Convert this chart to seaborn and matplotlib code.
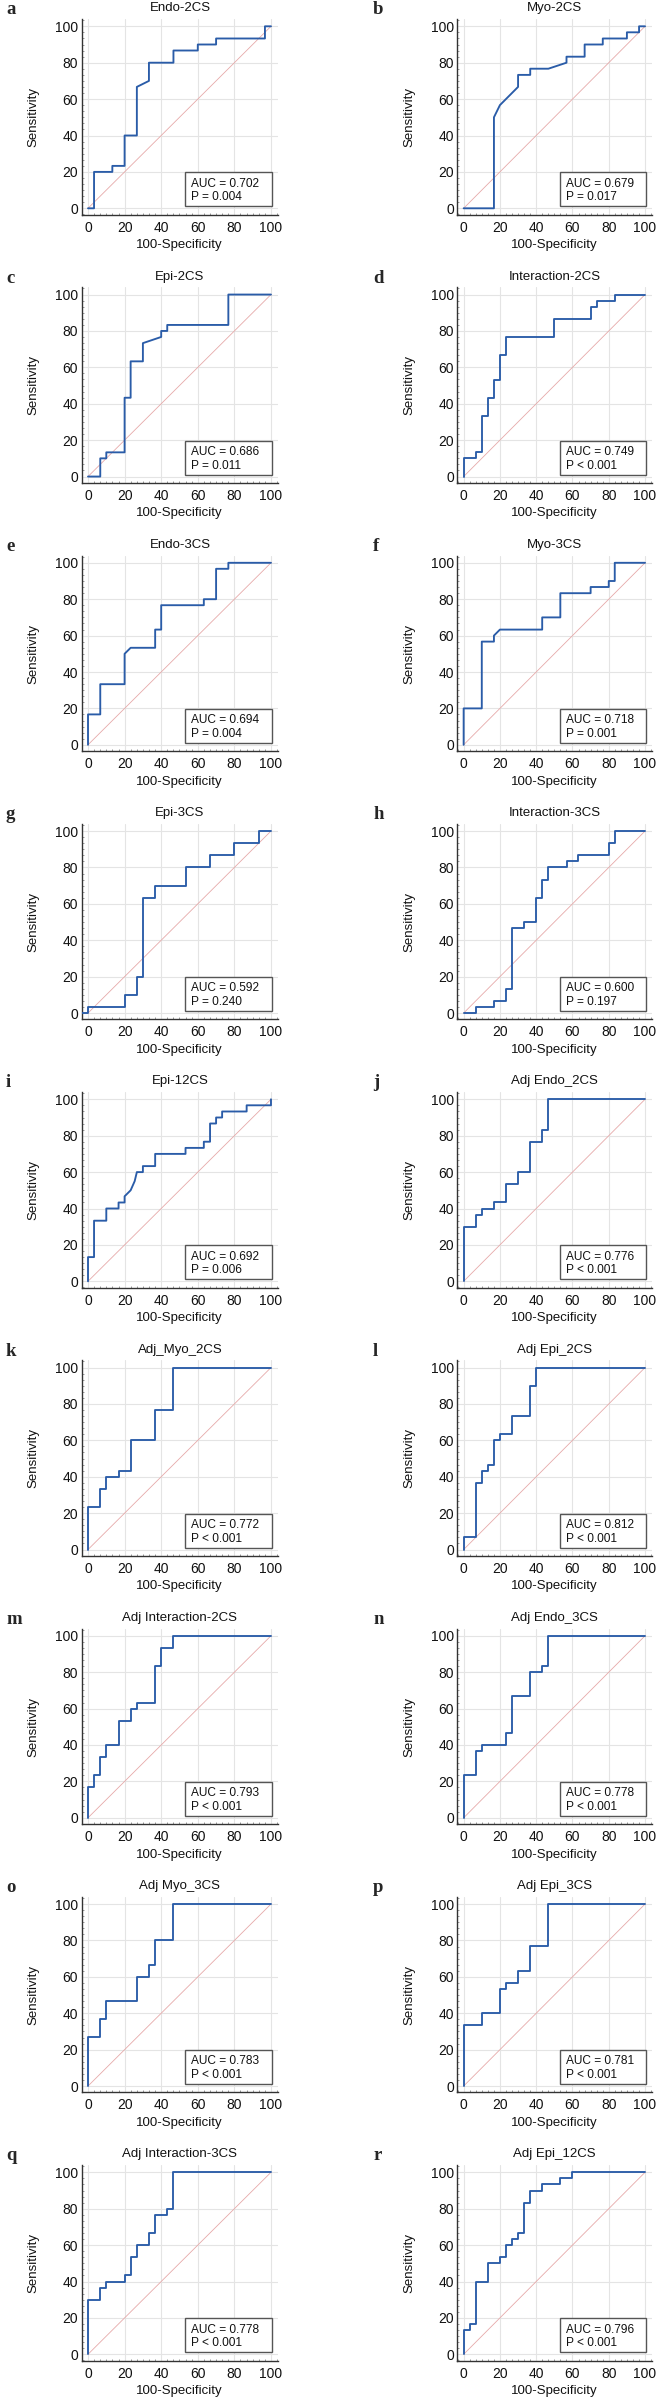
import matplotlib
matplotlib.use("Agg")
import matplotlib.pyplot as plt
from matplotlib.patches import Rectangle
from matplotlib.ticker import MultipleLocator
import seaborn as sns
import pandas as pd

# ROC vertices (100-Specificity, Sensitivity)
endo_2cs = [(0, 0), (3.3, 0), (3.3, 20), (13.3, 20), (13.3, 23.3), (20, 23.3), (20, 40), (26.7, 40),
            (26.7, 66.7), (33.3, 70), (33.3, 80), (46.7, 80), (46.7, 86.7), (60, 86.7), (60, 90),
            (70, 90), (70, 93.3), (96.7, 93.3), (96.7, 100), (100, 100)]
myo_2cs = [(0, 0), (16.7, 0), (16.7, 50), (20, 56.7), (30, 66.7), (30, 73.3), (36.7, 73.3), (36.7, 76.7),
           (46.7, 76.7), (56.7, 80), (56.7, 83.3), (66.7, 83.3), (66.7, 90), (76.7, 90), (76.7, 93.3),
           (90, 93.3), (90, 96.7), (96.7, 96.7), (96.7, 100), (100, 100)]
epi_2cs = [(0, 0), (6.7, 0), (6.7, 10), (10, 10), (10, 13.3), (20, 13.3), (20, 43.3), (23.3, 43.3),
           (23.3, 63.3), (30, 63.3), (30, 73.3), (40, 76.7), (40, 80), (43.3, 80), (43.3, 83.3),
           (76.7, 83.3), (76.7, 100), (100, 100)]
inter_2cs = [(0, 0), (0, 10), (6.7, 10), (6.7, 13.3), (10, 13.3), (10, 33.3), (13.3, 33.3), (13.3, 43.3),
             (16.7, 43.3), (16.7, 53.3), (20, 53.3), (20, 66.7), (23.3, 66.7), (23.3, 76.7), (50, 76.7),
             (50, 86.7), (70, 86.7), (70, 93.3), (73.3, 93.3), (73.3, 96.7), (83.3, 96.7), (83.3, 100),
             (100, 100)]
endo_3cs = [(0, 0), (0, 16.7), (6.7, 16.7), (6.7, 33.3), (20, 33.3), (20, 50), (23.3, 53.3), (36.7, 53.3),
            (36.7, 63.3), (40, 63.3), (40, 76.7), (63.3, 76.7), (63.3, 80), (70, 80), (70, 96.7),
            (76.7, 96.7), (76.7, 100), (100, 100)]
myo_3cs = [(0, 0), (0, 20), (10, 20), (10, 56.7), (16.7, 56.7), (16.7, 60), (20, 63.3), (43.3, 63.3),
           (43.3, 70), (53.3, 70), (53.3, 83.3), (70, 83.3), (70, 86.7), (80, 86.7), (80, 90),
           (83.3, 90), (83.3, 100), (100, 100)]
epi_3cs = [(-3.3, 0), (0, 0), (0, 3.3), (20, 3.3), (20, 10), (26.7, 10), (26.7, 20), (30, 20), (30, 63.3),
           (36.7, 63.3), (36.7, 70), (53.3, 70), (53.3, 80), (66.7, 80), (66.7, 86.7), (80, 86.7),
           (80, 93.3), (93.3, 93.3), (93.3, 100), (100, 100)]
inter_3cs = [(0, 0), (6.7, 0), (6.7, 3.3), (16.7, 3.3), (16.7, 6.7), (23.3, 6.7), (23.3, 13.3), (26.7, 13.3),
             (26.7, 46.7), (33.3, 46.7), (33.3, 50), (40, 50), (40, 63.3), (43.3, 63.3), (43.3, 73.3),
             (46.7, 73.3), (46.7, 80), (56.7, 80), (56.7, 83.3), (63.3, 83.3), (63.3, 86.7), (80, 86.7),
             (80, 93.3), (83.3, 93.3), (83.3, 100), (100, 100)]
epi_12cs = [(0, 0), (0, 13.3), (3.3, 13.3), (3.3, 33.3), (10, 33.3), (10, 40), (16.7, 40), (16.7, 43.3),
            (20, 43.3), (20, 46.7), (23.3, 50), (25.5, 55), (26.7, 60), (30, 60), (30, 63.3), (36.7, 63.3),
            (36.7, 70), (53.3, 70), (53.3, 73.3), (63.3, 73.3), (63.3, 76.7), (66.7, 76.7), (66.7, 86.7),
            (70, 86.7), (70, 90), (73.3, 90), (73.3, 93.3), (86.7, 93.3), (86.7, 96.7), (100, 96.7),
            (100, 100)]
adj_endo_2cs = [(0, 0), (0, 30), (6.7, 30), (6.7, 36.7), (10, 36.7), (10, 40), (16.7, 40), (16.7, 43.3),
                (23.3, 43.3), (23.3, 53.3), (30, 53.3), (30, 60), (36.7, 60), (36.7, 76.7), (43.3, 76.7),
                (43.3, 83.3), (46.7, 83.3), (46.7, 100), (100, 100)]
adj_myo_2cs = [(0, 0), (0, 23.3), (6.7, 23.3), (6.7, 33.3), (10, 33.3), (10, 40), (16.7, 40), (16.7, 43.3),
               (23.3, 43.3), (23.3, 60), (36.7, 60), (36.7, 76.7), (46.7, 76.7), (46.7, 100), (100, 100)]
adj_epi_2cs = [(0, 0), (0, 6.7), (6.7, 6.7), (6.7, 36.7), (10, 36.7), (10, 43.3), (13.3, 43.3), (13.3, 46.7),
               (16.7, 46.7), (16.7, 60), (20, 60), (20, 63.3), (26.7, 63.3), (26.7, 73.3), (36.7, 73.3),
               (36.7, 90), (40, 90), (40, 100), (100, 100)]
adj_inter_2cs = [(0, 0), (0, 16.7), (3.3, 16.7), (3.3, 23.3), (6.7, 23.3), (6.7, 33.3), (10, 33.3), (10, 40),
                 (16.7, 40), (16.7, 53.3), (23.3, 53.3), (23.3, 60), (26.7, 60), (26.7, 63.3), (36.7, 63.3),
                 (36.7, 83.3), (40, 83.3), (40, 93.3), (46.7, 93.3), (46.7, 100), (100, 100)]
adj_endo_3cs = [(0, 0), (0, 23.3), (6.7, 23.3), (6.7, 36.7), (10, 36.7), (10, 40), (23.3, 40), (23.3, 46.7),
                (26.7, 46.7), (26.7, 66.7), (36.7, 66.7), (36.7, 80), (43.3, 80), (43.3, 83.3), (46.7, 83.3),
                (46.7, 100), (100, 100)]
adj_myo_3cs = [(0, 0), (0, 26.7), (6.7, 26.7), (6.7, 36.7), (10, 36.7), (10, 46.7), (26.7, 46.7), (26.7, 60),
               (33.3, 60), (33.3, 66.7), (36.7, 66.7), (36.7, 80), (46.7, 80), (46.7, 100), (100, 100)]
adj_epi_3cs = [(0, 0), (0, 33.3), (10, 33.3), (10, 40), (20, 40), (20, 53.3), (23.3, 53.3), (23.3, 56.7),
               (30, 56.7), (30, 63.3), (36.7, 63.3), (36.7, 76.7), (46.7, 76.7), (46.7, 100), (100, 100)]
adj_inter_3cs = [(0, 0), (0, 30), (6.7, 30), (6.7, 36.7), (10, 36.7), (10, 40), (20, 40), (20, 43.3),
                 (23.3, 43.3), (23.3, 53.3), (26.7, 53.3), (26.7, 60), (33.3, 60), (33.3, 66.7), (36.7, 66.7),
                 (36.7, 76.7), (43.3, 76.7), (43.3, 80), (46.7, 80), (46.7, 100), (100, 100)]
adj_epi_12cs = [(0, 0), (0, 13.3), (3.3, 13.3), (3.3, 16.7), (6.7, 16.7), (6.7, 40), (13.3, 40), (13.3, 50),
                (20, 50), (20, 53.3), (23.3, 53.3), (23.3, 60), (26.7, 60), (26.7, 63.3), (30, 63.3),
                (30, 66.7), (33.3, 66.7), (33.3, 83.3), (36.7, 83.3), (36.7, 90), (43.3, 90), (43.3, 93.3),
                (53.3, 93.3), (53.3, 96.7), (60, 96.7), (60, 100), (100, 100)]

curves = [endo_2cs, myo_2cs, epi_2cs, inter_2cs, endo_3cs, myo_3cs, epi_3cs, inter_3cs, epi_12cs,
          adj_endo_2cs, adj_myo_2cs, adj_epi_2cs, adj_inter_2cs, adj_endo_3cs, adj_myo_3cs,
          adj_epi_3cs, adj_inter_3cs, adj_epi_12cs]
letters = list("abcdefghijklmnopqr")
titles = ["Endo-2CS", "Myo-2CS", "Epi-2CS", "Interaction-2CS", "Endo-3CS", "Myo-3CS",
          "Epi-3CS", "Interaction-3CS", "Epi-12CS", "Adj Endo_2CS", "Adj_Myo_2CS", "Adj Epi_2CS",
          "Adj Interaction-2CS", "Adj Endo_3CS", "Adj Myo_3CS", "Adj Epi_3CS",
          "Adj Interaction-3CS", "Adj Epi_12CS"]
auc = ["0.702", "0.679", "0.686", "0.749", "0.694", "0.718", "0.592", "0.600", "0.692",
       "0.776", "0.772", "0.812", "0.793", "0.778", "0.783", "0.781", "0.778", "0.796"]
pval = ["= 0.004", "= 0.017", "= 0.011", "< 0.001", "= 0.004", "= 0.001", "= 0.240", "= 0.197",
        "= 0.006", "< 0.001", "< 0.001", "< 0.001", "< 0.001", "< 0.001", "< 0.001", "< 0.001",
        "< 0.001", "< 0.001"]

sns.set_theme(style="white")
plt.rcParams["font.family"] = ["Liberation Sans", "DejaVu Sans"]

W, H = 657, 2400
fig = plt.figure(figsize=(W / 100, H / 100), dpi=100)

LINE = "#2a5ca8"
DIAG = "#e6a9a9"

for i, pts in enumerate(curves):
    row, col = divmod(i, 2)
    y0 = 208.3 + 268.25 * row          # pixel row of sensitivity = 0
    top = y0 - 104 * 1.82
    hgt = 107.5 * 1.82
    left, wid = (81.6, 196.7) if col == 0 else (457.3, 195.0)
    ax = fig.add_axes([left / W, 1 - (top + hgt) / H, wid / W, hgt / H])

    df = pd.DataFrame(pts, columns=["fpr", "tpr"])
    sns.lineplot(x=[0, 100], y=[0, 100], color=DIAG, lw=0.6, ax=ax)
    sns.lineplot(data=df, x="fpr", y="tpr", sort=False, estimator=None,
                 color=LINE, lw=1.35, ax=ax, zorder=3)

    ax.add_patch(Rectangle((53, 1), 47.5, 18.7, fc="white", ec="#555555", lw=1.0, zorder=5))
    ax.text(56.5, 13.6, f"AUC = {auc[i]}", fontsize=8.6, va="center", ha="left", zorder=6, color="#111111")
    ax.text(56.5, 6.0, f"P {pval[i]}", fontsize=8.6, va="center", ha="left", zorder=6, color="#111111")

    ax.set_xlim(-3.5, 104)
    ax.set_ylim(-3.5, 104)
    ax.set_xticks(range(0, 101, 20))
    ax.set_yticks(range(0, 101, 20))
    ax.xaxis.set_minor_locator(MultipleLocator(100 / 30))
    ax.yaxis.set_minor_locator(MultipleLocator(100 / 30))
    ax.grid(True, which="major", color="#e4e4e4", lw=0.8)
    ax.set_axisbelow(True)
    for s in ["top", "right"]:
        ax.spines[s].set_visible(False)
    for s in ["left", "bottom"]:
        ax.spines[s].set_color("#333333")
        ax.spines[s].set_linewidth(1.0)
    ax.tick_params(which="major", direction="in", length=3, width=0.8, color="#555555",
                   labelsize=10, labelcolor="#111111")
    ax.tick_params(axis="x", which="major", pad=4.2)
    ax.tick_params(axis="y", which="major", pad=2.5)
    ax.tick_params(which="minor", direction="in", length=1.6, width=0.6, color="#888888",
                   bottom=True, left=True)

    ax.set_title(titles[i], fontsize=9.5, pad=5.5, color="#111111")
    ax.set_xlabel("100-Specificity", fontsize=9.5, color="#111111")
    ax.set_ylabel("Sensitivity", fontsize=9.5, color="#111111")
    ax.xaxis.set_label_coords(0.498, -0.125)
    ax.yaxis.set_label_coords(-0.215, 0.498)

    lx = 6 if col == 0 else 373
    fig.text(lx / W, 1 - (y0 - 194) / H, letters[i], fontsize=13.5, fontweight="bold",
             family=["Liberation Serif", "DejaVu Serif"], va="baseline", ha="left")

fig.savefig("out.png", dpi=100)
